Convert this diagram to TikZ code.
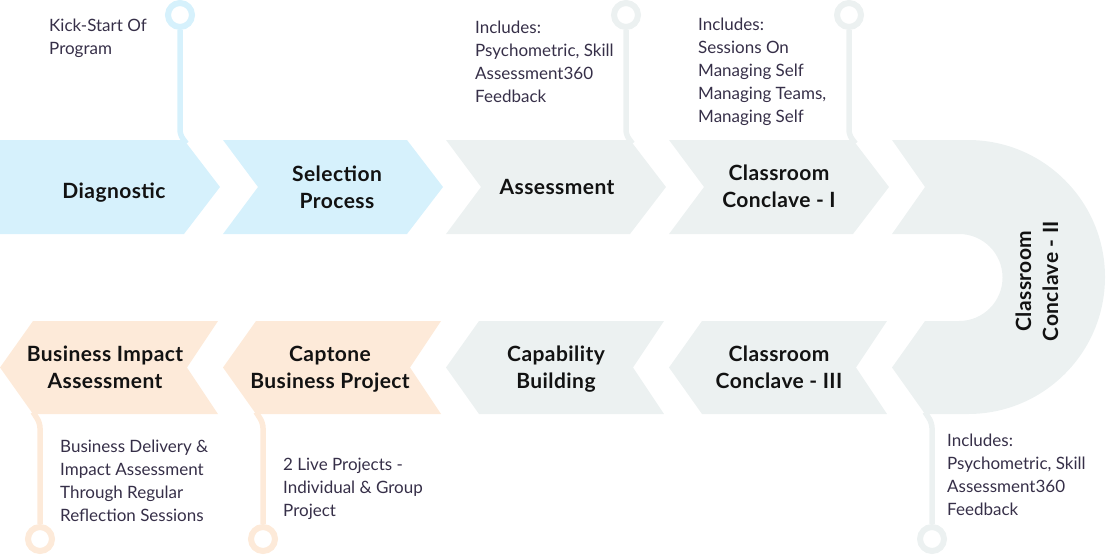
\documentclass[tikz,border=0pt]{standalone}
\usepackage{fontspec}
\setmainfont{Lato}
\usetikzlibrary{calc}
\definecolor{cblue}{RGB}{214,241,252}
\definecolor{cgray}{RGB}{236,241,241}
\definecolor{cpeach}{RGB}{253,234,217}
\definecolor{ctitle}{RGB}{18,18,18}
\definecolor{cdesc}{RGB}{54,47,72}

\begin{document}
\begin{tikzpicture}[x=1pt,y=-1pt,
  title/.style={font=\fontsize{21}{27}\selectfont\bfseries\addfontfeatures{LetterSpace=2},
                text=ctitle, align=center, inner sep=0pt, anchor=base},
  desc/.style={font=\fontsize{17}{23}\selectfont,
               text=cdesc, align=left, inner sep=0pt, anchor=base west},
  pinring/.style={circle, draw=#1, line width=6pt, fill=white, minimum size=24pt, inner sep=0pt},
  stem/.style={draw=#1, line width=5.5pt, rounded corners=5pt},
]
\useasboundingbox (0,0) rectangle (1107,555);

% ---------- upper row (pointing right) ----------
\fill[cblue] (0,140) -- (184,140) -- (220,187) -- (184,234) -- (0,234) -- cycle;
\fill[cblue] (223,140) -- (407,140) -- (443,187) -- (407,234) -- (223,234) -- (258,187) -- cycle;
\fill[cgray] (446,140) -- (630,140) -- (666,187) -- (630,234) -- (446,234) -- (481,187) -- cycle;
\fill[cgray] (669,140) -- (853,140) -- (889,187) -- (853,234) -- (669,234) -- (704,187) -- cycle;

% ---------- turning band ----------
\fill[cgray] (892,140) -- (968,140) arc[start angle=90, end angle=-90, radius=137pt]
  -- (925,414) -- (892,367.5) -- (925,321) -- (959,321)
  arc[start angle=-90, end angle=90, radius=43.5pt]
  -- (892,234) -- (925,187) -- cycle;

% ---------- lower row (pointing left) ----------
\fill[cpeach] (0,367.5) -- (33,321) -- (218,321) -- (187,367.5) -- (218,414) -- (33,414) -- cycle;
\fill[cpeach] (223,367.5) -- (256,321) -- (441,321) -- (410,367.5) -- (441,414) -- (256,414) -- cycle;
\fill[cgray] (446,367.5) -- (479,321) -- (664,321) -- (633,367.5) -- (664,414) -- (479,414) -- cycle;
\fill[cgray] (669,367.5) -- (702,321) -- (887,321) -- (856,367.5) -- (887,414) -- (702,414) -- cycle;

% ---------- pins ----------
\node[pinring=cblue] (pinA) at (180,15) {};
\node[pinring=cgray] (pinC) at (626,15) {};
\node[pinring=cgray] (pinD) at (849,15) {};
\node[pinring=cpeach] (pinH) at (40,539) {};
\node[pinring=cpeach] (pinG) at (263,539) {};
\node[pinring=cgray] (pinE) at (932,539) {};

\coordinate (cornA) at (186.5,143.5);
\coordinate (cornC) at (632.5,143.5);
\coordinate (cornD) at (855.5,143.5);
\coordinate (cornH) at (33,412);
\coordinate (cornG) at (256,412);
\coordinate (cornE) at (925,412);

\draw[stem=cblue] (pinA) -- (180,135) -- (cornA);
\draw[stem=cgray] (pinC) -- (626,135) -- (cornC);
\draw[stem=cgray] (pinD) -- (849,135) -- (cornD);
\draw[stem=cpeach] (pinH) -- (40,423) -- (cornH);
\draw[stem=cpeach] (pinG) -- (263,423) -- (cornG);
\draw[stem=cgray] (pinE) -- (932,423) -- (cornE);

% ---------- stage titles (base = last line's baseline) ----------
\node[title] (tA) at (114,198) {Diagnostic};
\node[title] (tB) at (337,208) {Selection\\Process};
\node[title] (tC) at (557,194) {Assessment};
\node[title] (tD) at (779,207) {Classroom\\Conclave - I};
\node[title, anchor=center, rotate=90] (tE) at (1037,281) {Classroom\\Conclave - II};
\node[title] (tF) at (779,388) {Classroom\\Conclave - III};
\node[title] (tGt) at (556,388) {Capability\\Building};
\node[title] (tGg) at (330,388) {Captone\\Business Project};
\node[title] (tH) at (105,388) {Business Impact\\Assessment};

% ---------- notes ----------
\node[desc] (dA) at (49,54) {Kick-Start Of\\Program};
\node[desc] (dC) at (475,102) {Includes:\\Psychometric, Skill\\Assessment360\\Feedback};
\node[desc] (dD) at (698,122) {Includes:\\Sessions On\\Managing Self\\Managing Teams,\\Managing Self};
\node[desc] (dH) at (60,521) {Business Delivery \&\\Impact Assessment\\Through Regular\\Reflection Sessions};
\node[desc] (dG) at (283,516) {2 Live Projects -\\Individual \& Group\\Project};
\node[desc] (dE) at (947,515) {Includes:\\Psychometric, Skill\\Assessment360\\Feedback};
\end{tikzpicture}
\end{document}
